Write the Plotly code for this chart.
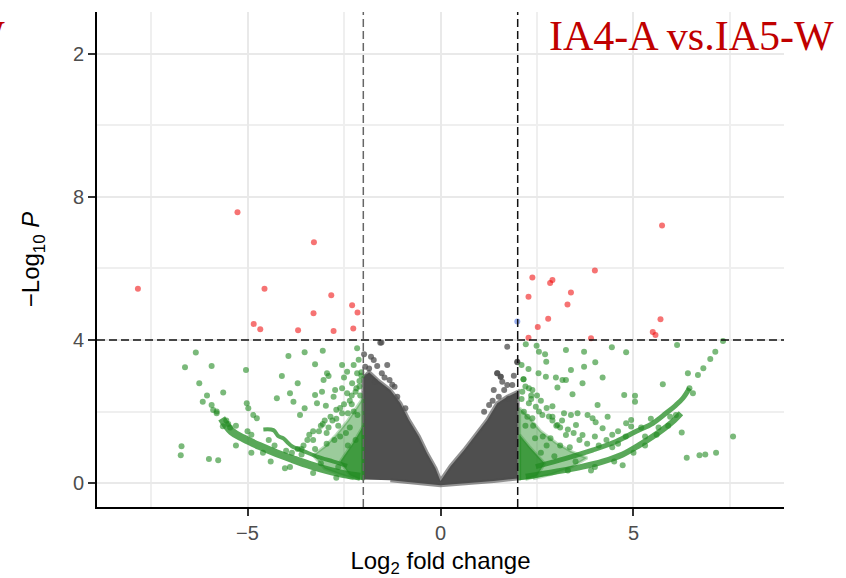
import plotly.graph_objects as go

# ---------------- data ----------------
FC_CUTOFF = 2.0
P_CUTOFF = 4.0

# significant (|log2FC| > 2 and -log10 P > 4)
red_x = [-5.26, -3.28, -7.84, -4.56, -2.83, -2.29, -2.15, -3.29, -4.84, -4.67, -3.69, -2.77, -2.26,
         5.74, 4.00, 2.38, 2.90, 2.84, 3.38, 2.28, 3.29, 2.79, 5.70, 2.52, 5.50, 5.57, 2.28, 3.90]
red_y = [7.57, 6.73, 5.43, 5.43, 5.25, 4.97, 4.77, 4.75, 4.45, 4.30, 4.27, 4.25, 4.32,
         7.20, 5.94, 5.75, 5.68, 5.59, 5.33, 5.21, 4.99, 4.59, 4.58, 4.36, 4.22, 4.14, 4.06, 4.05]

# P only
blue_x = [1.99]
blue_y = [4.52]

# not significant: dense cloud outline and scattered fringe points
gray_poly_x = [-2.0, -2.0, -1.85, -1.6, -1.3, -1.04, -0.82, -0.56, -0.35, -0.13, 0.0, 0.26, 0.61,
               0.95, 1.21, 1.47, 1.73, 2.0, 2.0, 1.38, 0.0, -1.30]
gray_poly_y = [0.10, 2.95, 3.10, 2.85, 2.60, 2.23, 1.76, 1.30, 0.83, 0.41, 0.06, 0.47, 0.92,
               1.39, 1.76, 2.23, 2.41, 2.55, 0.13, 0.06, -0.06, 0.08]
gray_x = [-1.53, -1.56, -1.80, -1.73, -1.95, -1.64, -1.38, -1.52, -1.32, -1.90, -1.70, -1.19, -1.12,
          -0.91, -1.45, -1.25, -1.98, -1.85,
          1.73, 1.99, 1.47, 1.56, 1.60, 1.73, 1.86, 1.38, 1.51, 1.77, 1.26, 1.13, 1.99, 1.47, 1.56,
          1.90, 1.65, 1.35]
gray_y = [3.93, 3.92, 3.53, 3.44, 3.25, 3.27, 3.30, 3.07, 2.88, 2.97, 2.83, 2.69, 2.41,
          2.09, 2.95, 2.75, 3.60, 3.20,
          3.81, 3.39, 3.07, 2.97, 2.83, 2.74, 2.74, 2.60, 2.41, 2.36, 2.18, 1.99, 3.38, 3.07, 2.97,
          3.00, 2.60, 2.30]

# log2FC only: dense areas next to the cut-offs
green_left_outer_x = [-2.0, -2.0, -2.15, -2.4, -2.7, -3.0, -3.3, -3.0, -2.6, -2.25]
green_left_outer_y = [0.08, 2.40, 2.15, 1.75, 1.35, 1.02, 0.78, 0.40, 0.24, 0.12]
green_left_inner_x = [-2.0, -2.0, -2.25, -2.6, -2.35, -2.1]
green_left_inner_y = [0.08, 1.60, 1.15, 0.60, 0.22, 0.10]
green_right_outer_x = [2.05, 2.05, 2.3, 2.6, 3.0, 3.4, 3.8, 3.4, 2.9, 2.4]
green_right_outer_y = [0.08, 2.10, 1.82, 1.45, 1.12, 0.88, 0.70, 0.45, 0.25, 0.12]
green_right_inner_x = [2.05, 2.05, 2.3, 2.7, 2.5, 2.2]
green_right_inner_y = [0.08, 1.35, 1.02, 0.55, 0.20, 0.10]

# log2FC only: the curved bands
band_left_x = [-5.67, -5.41, -5.11, -4.68, -4.24, -3.81, -3.38, -2.94, -2.51, -2.08]
band_left_y = [1.81, 1.44, 1.25, 1.03, 0.83, 0.66, 0.50, 0.36, 0.25, 0.18]
band_left2_x = [-4.59, -4.33, -4.20, -4.07, -3.94, -3.85, -3.52, -3.20, -2.77, -2.42]
band_left2_y = [1.50, 1.48, 1.31, 1.25, 1.11, 1.03, 0.88, 0.74, 0.60, 0.48]
band_right_lo_x = [2.21, 2.99, 3.68, 4.20, 4.72, 5.15, 5.50, 5.80, 6.06, 6.23]
band_right_lo_y = [0.18, 0.32, 0.46, 0.60, 0.80, 1.06, 1.30, 1.53, 1.76, 1.95]
band_right_hi_x = [2.47, 3.25, 3.94, 4.55, 5.06, 5.50, 5.84, 6.10, 6.28, 6.45]
band_right_hi_y = [0.46, 0.69, 0.92, 1.16, 1.44, 1.67, 1.95, 2.18, 2.37, 2.65]

# log2FC only: scattered points
green_x = [-6.34, -6.62, -5.93, -5.04, -6.25, -5.63, -6.16, -6.71, -6.73, -6.00, -5.76,
           -3.94, -3.52, -3.05, -3.25, -4.11, -3.70, -3.90, -3.81, -4.24, -3.52, -3.64, -3.25,
           -3.20, -2.97, -2.94, -2.90, -2.55, -2.42, -2.16, -2.16, -2.73, -2.55, -2.77, -2.29,
           -2.42, -3.03, -3.07, -5.02, -4.98, -4.85, -4.76, -5.64, -5.93, -5.89, -4.03,
           -6.05, -5.80, -5.50, -2.10, -2.20, -2.35, -2.60, -2.85, -3.10, -3.40, -2.25, -2.50,
           -2.65, -2.95, -3.30, -3.60, -2.12, -2.30, -2.05, -2.40, -2.70, -3.00, -2.20, -2.45,
           -2.05, -2.10, -2.18, -2.08, -2.30, -2.25, -2.50, -2.55, -2.70, -2.80, -2.90, -3.05,
           -3.15, -3.30, -3.45, -3.55, -3.70, -3.85, -2.35, -2.60, -2.75, -2.95, -3.25, -2.15,
           -2.40, -4.45, -4.60, -5.30, -5.45, -5.00, -4.90, -4.30, -3.60, -3.10, -2.65, -5.80,
           -5.55, -4.00, -4.40, -3.90, -3.30, -2.70, -5.30, -4.90,
           6.81, 6.99, 7.12, 7.32, 6.67, 6.45,
           2.21, 2.49, 2.55, 2.71, 2.74, 2.28, 2.54, 2.73, 2.99, 3.16, 3.25, 3.25, 3.72, 3.38,
           3.72, 4.01, 4.44, 4.81, 6.13, 4.20, 3.03, 3.68, 3.42, 2.90, 4.07, 4.33, 4.76, 5.04,
           5.04, 5.76, 6.41, 6.54, 6.25, 7.58, 6.38, 6.71, 6.86, 7.14, 4.72, 4.81, 4.94, 4.94,
           3.94, 4.02, 3.81, 3.55, 3.38, 3.20, 2.81, 3.03, 3.25, 3.68, 3.51, 4.20, 2.29, 2.38,
           2.12, 2.29, 2.47, 2.16, 2.64, 2.38, 2.15, 2.35, 2.60, 2.90, 3.10, 2.20, 2.45, 2.75,
           5.30, 5.65, 5.95, 4.45, 4.60,
           2.10, 2.15, 2.20, 2.10, 2.35, 2.50, 2.55, 2.75, 2.90, 3.00, 3.15, 3.30, 3.45, 3.60,
           3.80, 4.00, 4.10, 4.30, 4.45, 4.60, 2.40, 2.65, 2.85, 3.10, 3.35, 2.25, 2.60, 2.95,
           3.50, 4.00, 4.50, 5.00, 5.30, 5.60, 5.90, 6.10, 4.80, 5.20, 5.45, 3.30, 3.90]
green_y = [3.65, 3.24, 3.27, 3.16, 2.79, 2.53, 2.27, 1.03, 0.78, 0.67, 0.64,
           3.55, 3.66, 3.70, 3.32, 2.99, 2.79, 2.51, 2.27, 2.37, 2.09, 1.90, 2.46,
           2.23, 2.16, 3.07, 2.99, 3.30, 3.11, 3.77, 3.07, 2.60, 2.65, 2.41, 2.79,
           2.51, 2.88, 2.55, 2.23, 2.09, 1.90, 1.81, 1.59, 2.18, 2.04, 0.41,
           2.45, 2.00, 1.65, 2.70, 2.55, 2.30, 2.10, 1.85, 1.60, 1.35, 3.30, 2.95,
           1.60, 1.40, 1.20, 0.95, 3.45, 2.20, 3.10, 1.95, 1.80, 1.75, 1.20, 1.40,
           3.00, 2.85, 2.65, 2.45, 2.45, 2.00, 2.20, 1.95, 2.05, 1.75, 1.55, 1.65,
           1.45, 1.45, 1.20, 1.05, 0.95, 0.85, 1.55, 1.30, 1.20, 1.10, 0.95, 1.90,
           1.05, 1.20, 0.85, 1.60, 1.55, 1.45, 1.35, 1.05, 0.80, 0.55, 0.45, 1.95,
           1.75, 0.90, 0.60, 0.45, 0.28, 0.15, 1.05, 0.85,
           3.21, 3.47, 3.67, 3.97, 3.02, 2.65,
           3.88, 3.84, 3.67, 3.60, 3.39, 3.19, 3.07, 2.97, 2.95, 2.88, 2.88, 3.72, 3.67, 3.16,
           3.25, 3.38, 3.80, 3.66, 3.86, 2.95, 2.67, 2.79, 2.48, 2.15, 2.18, 1.85, 2.46, 2.44,
           2.27, 2.76, 3.07, 2.51, 1.41, 1.30, 0.71, 0.78, 0.80, 0.85, 0.50, 1.67, 1.76, 1.58,
           1.81, 1.70, 1.90, 1.95, 1.90, 1.95, 1.86, 1.62, 1.34, 1.34, 1.62, 1.53, 2.65, 2.60,
           2.55, 2.23, 2.13, 1.99, 1.90, 1.81, 2.90, 2.45, 2.30, 1.75, 1.55, 1.60, 1.25, 1.05,
           1.30, 1.55, 1.85, 1.00, 1.10,
           3.30, 2.90, 2.70, 2.35, 2.35, 2.45, 2.00, 2.10, 1.85, 1.60, 1.75, 1.50, 1.40, 1.20,
           1.10, 1.30, 1.05, 1.20, 1.35, 1.45, 1.60, 1.30, 1.25, 1.05, 1.00, 1.85, 0.85, 0.75,
           0.60, 0.45, 0.60, 0.85, 1.05, 1.35, 1.60, 1.90, 1.30, 1.55, 1.80, 0.35, 0.35]

TITLE = "IA4-A vs.IA5-W"
X_TICKS = [-5, 0, 5]
Y_TICKS = [0, 4, 8, 12]
Y_TICKTEXT = ["0", "4", "8", "2"]

# ---------------- styles ----------------
GRAY = "rgba(77,77,77,0.75)"
GREEN = "rgba(34,139,34,0.6)"
RED = "rgba(238,0,0,0.55)"
BLUE = "rgba(65,105,225,0.55)"

fig = go.Figure()

fig.add_trace(go.Scatter(x=gray_poly_x, y=gray_poly_y, mode="lines", fill="toself",
                         fillcolor="#4f4f4f", line=dict(color="rgba(77,77,77,0.6)", width=4),
                         hoverinfo="skip", showlegend=False))
fig.add_trace(go.Scatter(x=gray_x, y=gray_y, mode="markers",
                         marker=dict(size=6, color=GRAY), showlegend=False))

for px, py, fc in [(green_left_outer_x, green_left_outer_y, "rgba(34,139,34,0.45)"),
                   (green_left_inner_x, green_left_inner_y, "rgba(34,139,34,0.75)"),
                   (green_right_outer_x, green_right_outer_y, "rgba(34,139,34,0.45)"),
                   (green_right_inner_x, green_right_inner_y, "rgba(34,139,34,0.75)")]:
    fig.add_trace(go.Scatter(x=px, y=py, mode="lines", fill="toself", fillcolor=fc,
                             line=dict(color="rgba(34,139,34,0.3)", width=3),
                             hoverinfo="skip", showlegend=False))

for bx, by, w in [(band_left_x, band_left_y, 8), (band_left2_x, band_left2_y, 4),
                  (band_right_lo_x, band_right_lo_y, 6), (band_right_hi_x, band_right_hi_y, 5)]:
    fig.add_trace(go.Scatter(x=bx, y=by, mode="lines", line=dict(color="rgba(34,139,34,0.75)", width=w,
                             shape="spline"), hoverinfo="skip", showlegend=False))

fig.add_trace(go.Scatter(x=green_x, y=green_y, mode="markers",
                         marker=dict(size=6, color=GREEN), showlegend=False))
fig.add_trace(go.Scatter(x=red_x, y=red_y, mode="markers",
                         marker=dict(size=6, color=RED), showlegend=False))
fig.add_trace(go.Scatter(x=blue_x, y=blue_y, mode="markers",
                         marker=dict(size=6, color=BLUE), showlegend=False))

# cut-off lines
fig.add_shape(type="line", x0=-FC_CUTOFF, x1=-FC_CUTOFF, y0=0, y1=1, xref="x", yref="paper",
              line=dict(color="#666666", width=1.5, dash="8px,4px"))
fig.add_shape(type="line", x0=FC_CUTOFF, x1=FC_CUTOFF, y0=0, y1=1, xref="x", yref="paper",
              line=dict(color="#111111", width=1.5, dash="8px,4px"))
fig.add_shape(type="line", x0=0, x1=1, y0=P_CUTOFF, y1=P_CUTOFF, xref="paper", yref="y",
              line=dict(color="#111111", width=1.5, dash="8px,4px"))

font_sans = "Liberation Sans, Arial, sans-serif"
fig.add_annotation(text=TITLE, xref="paper", yref="paper", x=0.866, y=0.951,
                   xanchor="center", yanchor="middle", showarrow=False,
                   font=dict(family="Liberation Serif, Times New Roman, serif", size=42, color="#c00000"))
fig.add_annotation(text="W", xref="paper", yref="paper", x=-0.131, y=0.951,
                   xanchor="right", yanchor="middle", showarrow=False,
                   font=dict(family="Liberation Serif, Times New Roman, serif", size=42, color="#c00000"))

fig.update_layout(
    width=846, height=578,
    margin=dict(l=97, r=62, t=12, b=71),
    paper_bgcolor="white", plot_bgcolor="white",
    font=dict(family=font_sans),
    xaxis=dict(range=[-8.9, 8.9], tickmode="array", tickvals=X_TICKS, automargin=False,
               showline=True, linecolor="black", linewidth=2, mirror=False,
               ticks="outside", ticklen=7, tickwidth=2, tickcolor="#333333",
               tickfont=dict(size=20, color="#4d4d4d"),
               showgrid=True, gridcolor="#e9e9e9", gridwidth=2, zeroline=False,
               minor=dict(tickmode="array", tickvals=[-7.5, -2.5, 2.5, 7.5], showgrid=True,
                          gridcolor="#efefef", gridwidth=1.5, ticks=""),
               title=dict(text="Log<sub>2</sub> fold change", font=dict(size=24, color="black"),
                          standoff=14)),
    yaxis=dict(range=[-0.67, 13.17], tickmode="array", tickvals=Y_TICKS, ticktext=Y_TICKTEXT,
               automargin=False,
               showline=True, linecolor="black", linewidth=2,
               ticks="outside", ticklen=7, tickwidth=2, tickcolor="#333333",
               tickfont=dict(size=20, color="#4d4d4d"),
               showgrid=True, gridcolor="#e9e9e9", gridwidth=2, zeroline=False,
               minor=dict(tickmode="array", tickvals=[2, 6, 10], showgrid=True,
                          gridcolor="#efefef", gridwidth=1.5, ticks=""),
               title=dict(text="−Log<sub>10</sub> <i>P</i>", font=dict(size=24, color="black"),
                          standoff=26)),
)

fig.write_html("out.html")
